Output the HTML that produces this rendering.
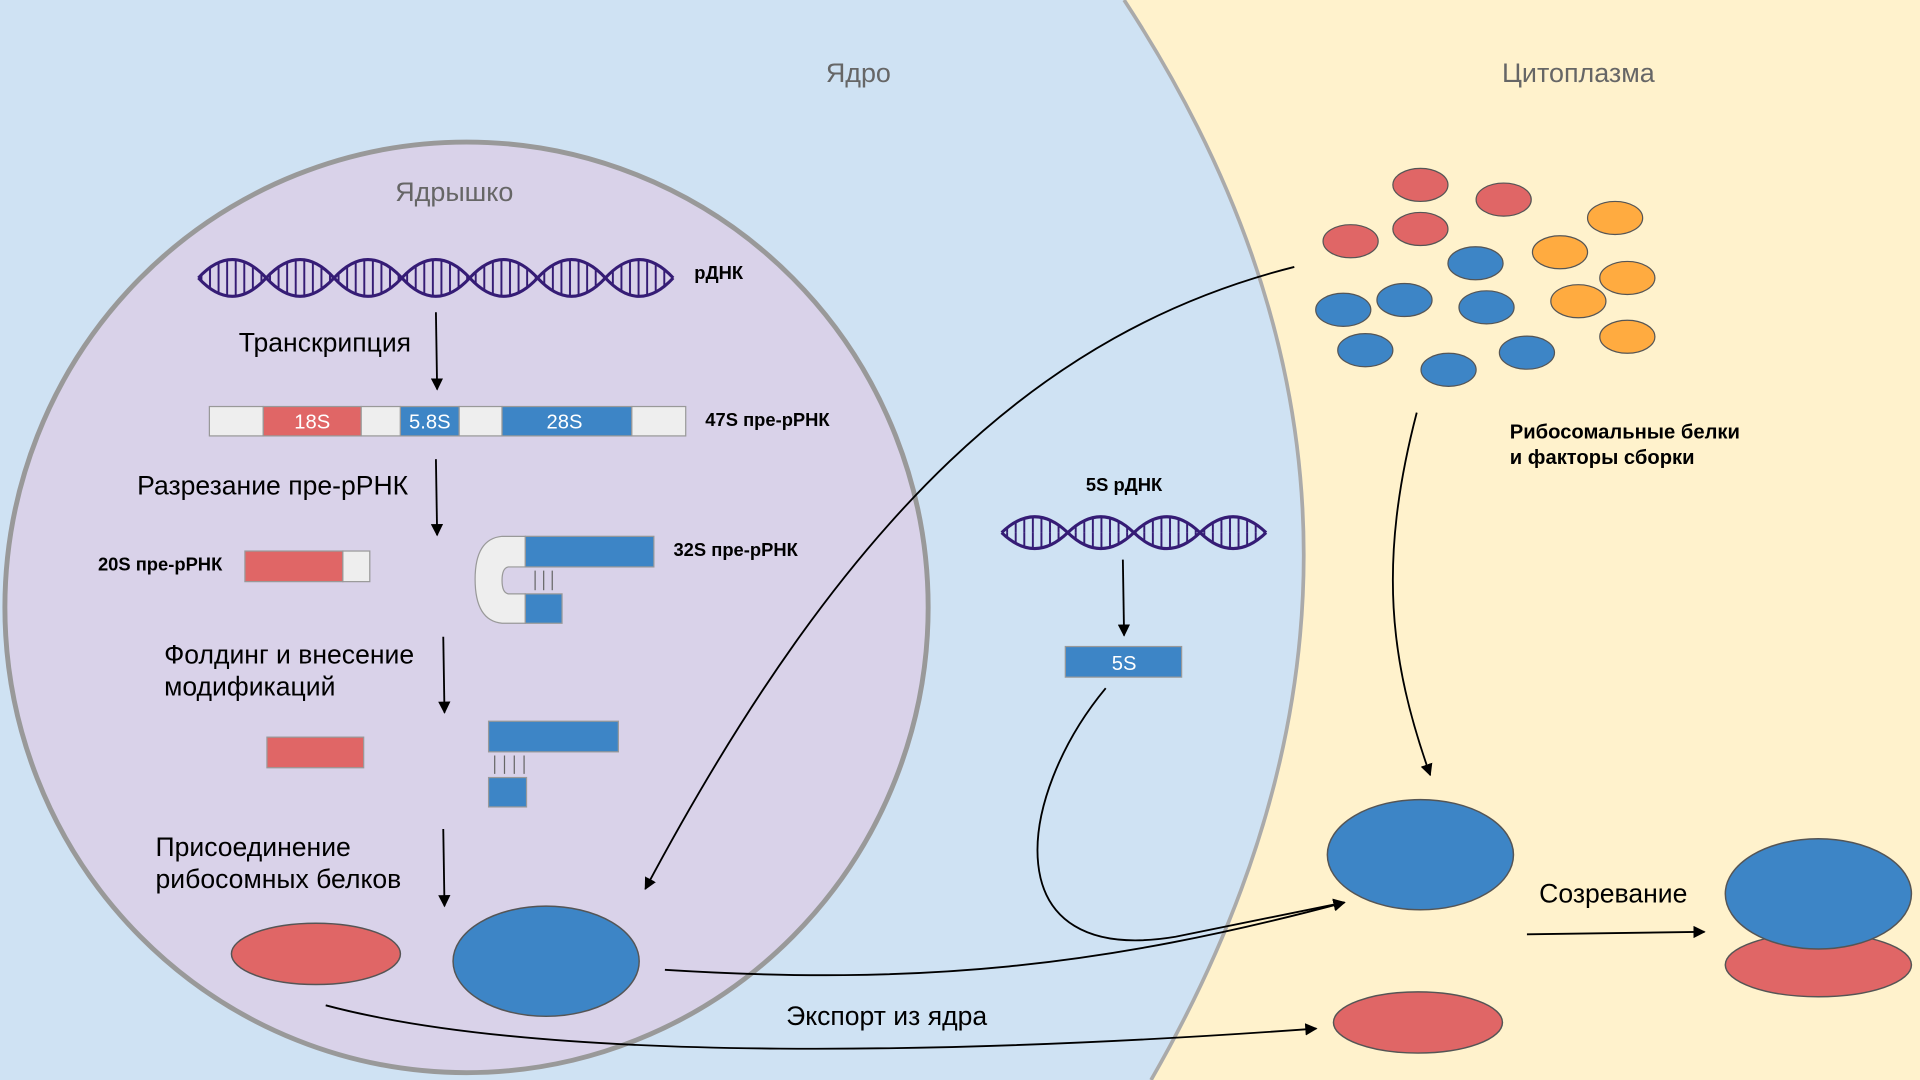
<!DOCTYPE html>
<html><head><meta charset="utf-8"><style>html,body{margin:0;padding:0;overflow:hidden}svg{display:block}text{font-family:"Liberation Sans",sans-serif}</style></head>
<body>
<svg width="1920" height="1080" viewBox="0 0 1568 882" xmlns="http://www.w3.org/2000/svg">
<defs>
<pattern id="st" width="7" height="10" patternUnits="userSpaceOnUse"><line x1="3.5" y1="0" x2="3.5" y2="10" stroke="#351c75" stroke-width="1.6"/></pattern>
<marker id="ar" markerWidth="10" markerHeight="10" refX="9" refY="5" orient="auto" markerUnits="userSpaceOnUse"><path d="M0,0 L10,5 L0,10 z" fill="#000"/></marker>
</defs>
<rect width="1568" height="882" fill="#fff2cc"/>
<path d="M0,0 L918,0 Q1200,430 940,882 L0,882 Z" fill="#cfe2f3"/>
<path d="M918,0 Q1200,430 940,882" fill="none" stroke="#aaa" stroke-width="3"/>
<ellipse cx="381" cy="496" rx="377" ry="380" fill="#d9d2e9" stroke="#999" stroke-width="4"/>
<g fill="#666" font-size="22" text-anchor="middle"><text x="701" y="67">Ядро</text><text x="1289" y="67">Цитоплазма</text><text x="371" y="164">Ядрышко</text></g>

<g stroke="#351c75" stroke-width="2.5" fill="url(#st)">
<path d="M162,227 q27.7,-30 55.4,0 t55.4,0 t55.4,0 t55.4,0 t55.4,0 t55.4,0 t55.4,0"/>
<path d="M162,227 q27.7,30 55.4,0 t55.4,0 t55.4,0 t55.4,0 t55.4,0 t55.4,0 t55.4,0"/>
<path d="M818,435 q27,-26 54,0 t54,0 t54,0 t54,0"/>
<path d="M818,435 q27,26 54,0 t54,0 t54,0 t54,0"/>
</g>
<g font-weight="bold" font-size="15" fill="#000">
<text x="567" y="228">рДНК</text><text x="576" y="348">47S пре-рРНК</text><text x="80" y="466">20S пре-рРНК</text><text x="550" y="454">32S пре-рРНК</text><text x="918" y="401" text-anchor="middle">5S рДНК</text>
<text x="1233" y="358" font-size="16.5">Рибосомальные белки</text><text x="1233" y="379" font-size="16.5">и факторы сборки</text>
</g>
<g font-size="21.7" fill="#000">
<text x="195" y="287">Транскрипция</text><text x="112" y="404">Разрезание пре-рРНК</text>
<text x="134" y="542">Фолдинг и внесение</text><text x="134" y="568">модификаций</text>
<text x="127" y="699">Присоединение</text><text x="127" y="725">рибосомных белков</text>
<text x="1257" y="737">Созревание</text><text x="642" y="837">Экспорт из ядра</text>
</g>
<g stroke="#000" stroke-width="1.5" marker-end="url(#ar)">
<line x1="356" y1="255" x2="357" y2="318"/><line x1="356" y1="375" x2="357" y2="437"/>
<line x1="362" y1="520" x2="363" y2="582"/><line x1="362" y1="677" x2="363" y2="740"/>
<line x1="917" y1="457" x2="918" y2="519"/><line x1="1247" y1="763" x2="1392" y2="761"/>
</g>
<g stroke="#999" stroke-width="1">
<rect x="171" y="332" width="44" height="24" fill="#eeeeee"/><rect x="215" y="332" width="80" height="24" fill="#e06666"/>
<rect x="295" y="332" width="32" height="24" fill="#eeeeee"/><rect x="327" y="332" width="48" height="24" fill="#3d85c6"/>
<rect x="375" y="332" width="35" height="24" fill="#eeeeee"/><rect x="410" y="332" width="106" height="24" fill="#3d85c6"/>
<rect x="516" y="332" width="44" height="24" fill="#eeeeee"/>
<rect x="200" y="450" width="80" height="25" fill="#e06666"/><rect x="280" y="450" width="22" height="25" fill="#eeeeee"/>
<path d="M429,438 L410,438 Q388,440 388,473 Q388,507 410,509 L429,509 L429,485 L415,485 Q410,484 410,474 Q410,464 415,463 L429,463 Z" fill="#eeeeee"/>
<rect x="429" y="438" width="105" height="25" fill="#3d85c6"/><rect x="429" y="485" width="30" height="24" fill="#3d85c6"/>
<rect x="218" y="602" width="79" height="25" fill="#e06666"/>
<rect x="399" y="589" width="106" height="25" fill="#3d85c6"/><rect x="399" y="635" width="31" height="24" fill="#3d85c6"/>
<rect x="870" y="528" width="95" height="25" fill="#3d85c6"/>
</g>
<g fill="#fff" font-size="16.5" text-anchor="middle"><text x="255" y="350">18S</text><text x="351" y="350">5.8S</text><text x="461" y="350">28S</text><text x="918" y="547">5S</text></g>
<g stroke="#666" stroke-width="1">
<line x1="437" y1="466" x2="437" y2="482"/><line x1="444" y1="466" x2="444" y2="482"/><line x1="451" y1="466" x2="451" y2="482"/>
<line x1="404" y1="617" x2="404" y2="632"/><line x1="412" y1="617" x2="412" y2="632"/><line x1="420" y1="617" x2="420" y2="632"/><line x1="428" y1="617" x2="428" y2="632"/>
</g>
<g stroke="#555" stroke-width="1.2">
<ellipse cx="258" cy="779" rx="69" ry="25" fill="#e06666"/><ellipse cx="446" cy="785" rx="76" ry="45" fill="#3d85c6"/>
<ellipse cx="1160" cy="698" rx="76" ry="45" fill="#3d85c6"/><ellipse cx="1158" cy="835" rx="69" ry="25" fill="#e06666"/>
<ellipse cx="1485" cy="788" rx="76" ry="26" fill="#e06666"/><ellipse cx="1485" cy="730" rx="76" ry="45" fill="#3d85c6"/>
</g>
<g stroke="#555" stroke-width="1">
<g fill="#e06666"><ellipse cx="1160" cy="151" rx="22.5" ry="13.5"/><ellipse cx="1228" cy="163" rx="22.5" ry="13.5"/><ellipse cx="1103" cy="197" rx="22.5" ry="13.5"/><ellipse cx="1160" cy="187" rx="22.5" ry="13.5"/></g>
<g fill="#ffab40"><ellipse cx="1319" cy="178" rx="22.5" ry="13.5"/><ellipse cx="1274" cy="206" rx="22.5" ry="13.5"/><ellipse cx="1329" cy="227" rx="22.5" ry="13.5"/><ellipse cx="1289" cy="246" rx="22.5" ry="13.5"/><ellipse cx="1329" cy="275" rx="22.5" ry="13.5"/></g>
<g fill="#3d85c6"><ellipse cx="1205" cy="215" rx="22.5" ry="13.5"/><ellipse cx="1147" cy="245" rx="22.5" ry="13.5"/><ellipse cx="1214" cy="251" rx="22.5" ry="13.5"/><ellipse cx="1097" cy="253" rx="22.5" ry="13.5"/><ellipse cx="1115" cy="286" rx="22.5" ry="13.5"/><ellipse cx="1183" cy="302" rx="22.5" ry="13.5"/><ellipse cx="1247" cy="288" rx="22.5" ry="13.5"/></g>
</g>
<g fill="none" stroke="#000" stroke-width="1.5" marker-end="url(#ar)">
<path d="M1057,218 C850,270 690,420 527,726"/>
<path d="M1157,337 C1125,460 1135,540 1168,633"/>
<path d="M903,562 C830,650 810,790 960,765 L1098,737"/>
<path d="M543,792 C750,805 900,790 1098,737"/>
<path d="M266,821 C450,870 800,860 1075,840"/>
</g>
</svg>
</body></html>
